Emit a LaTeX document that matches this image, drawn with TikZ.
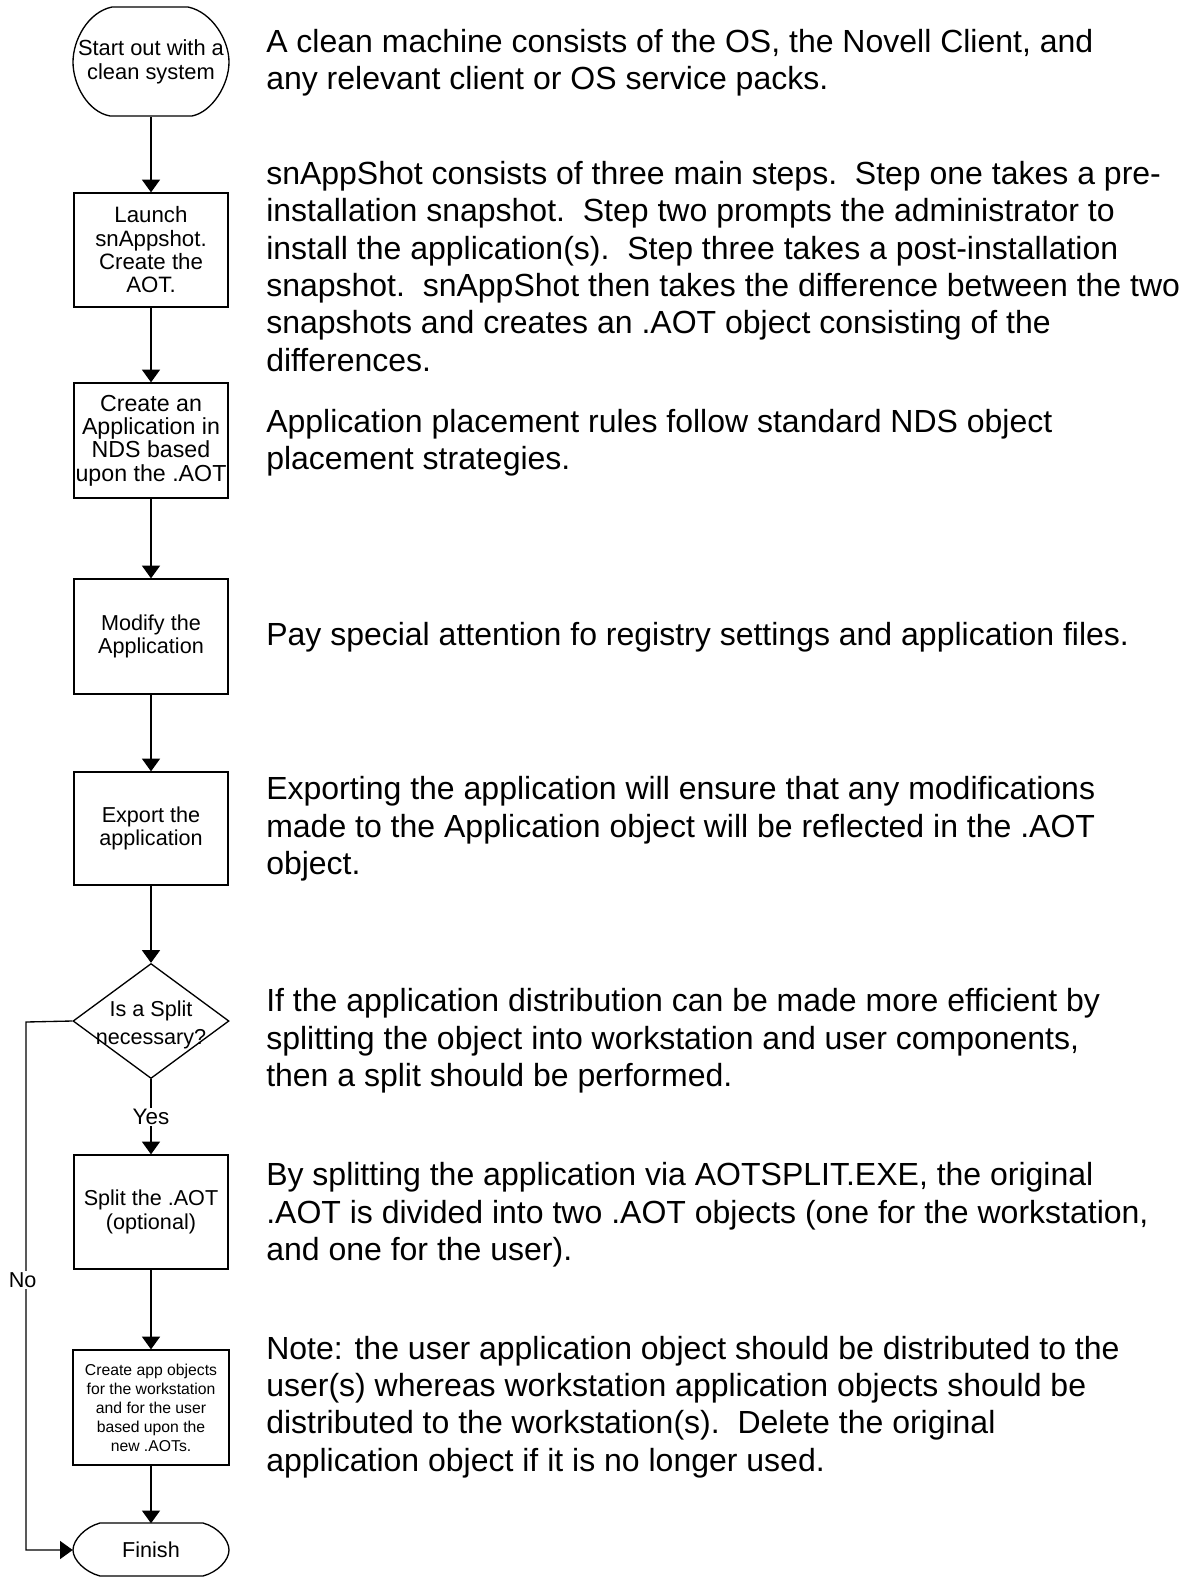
\documentclass[tikz,border=0pt]{standalone}
\usepackage{fontspec}
\setmainfont{Liberation Sans}
\usetikzlibrary{arrows.meta,shapes.geometric}
\tikzset{
  line/.style={line width=1pt},
  arr/.style={line, -{Triangle[width=13.5pt,length=9.5pt]}},
  boxnode/.style={draw, line width=1pt, minimum width=115.5pt, minimum height=85.5pt, inner sep=0pt, align=center, font=\fontsize{16.2}{17.5}\selectfont},
  smallbox/.style={boxnode, font=\fontsize{11.8}{14.25}\selectfont},
  term/.style={minimum width=117pt, inner sep=0pt, align=center, font=\fontsize{16.2}{17.5}\selectfont},
  para/.style={anchor=west, align=left, inner sep=0pt, font=\fontsize{24}{28}\selectfont},
  lab/.style={fill=white, inner sep=1pt, font=\fontsize{16.2}{17.5}\selectfont}
}
\begin{document}
\begin{tikzpicture}[x=0.75pt,y=-0.75pt]
\useasboundingbox (0,0) rectangle (1197,1577);
% start terminal
\node[term, minimum height=81.75pt, font=\fontsize{16.4}{17.8}\selectfont] (start) at (151,62) {Start out with a\\clean system};
\draw[line, shift={(start.center)}] (-39,-55) -- (37,-55) .. controls (61,-50) and (78,-22) .. (78,0) .. controls (78,23) and (61,50) .. (41,54) -- (-41,54) .. controls (-63,50) and (-78,23) .. (-78,0) .. controls (-78,-22) and (-63,-50) .. (-39,-55) -- cycle;
% boxes
\node[boxnode, font=\fontsize{16.7}{17.5}\selectfont] (b1) at (151,250) {Launch\\snAppshot.\\Create the\\AOT.};
\node[boxnode, minimum height=86.25pt, font=\fontsize{17.4}{17.5}\selectfont] (b2) at (151,440.5) {Create an\\Application in\\NDS based\\upon the .AOT};
\node[boxnode, minimum height=86.25pt] (b3) at (151,636.5) {Modify the\\Application};
\node[boxnode, minimum height=84.75pt] (b4) at (151,828.5) {Export the\\application};
\node[draw, line width=1pt, diamond, minimum width=117pt, minimum height=86.25pt, inner sep=0pt] (dia) at (151,1021) {};
\node[align=center, inner sep=0pt, font=\fontsize{16.2}{21.5}\selectfont] (diatext) at ([yshift=-3pt]dia.center) {Is a Split\\necessary?};
\node[boxnode] (b5) at (151,1212) {Split the .AOT\\(optional)};
\node[smallbox, minimum width=117pt, minimum height=86.25pt] (b6) at (151,1407.5) {Create app objects\\for the workstation\\and for the user\\based upon the\\new .AOTs.};
% finish terminal
\node[term, minimum height=39.75pt] (finish) at (151,1550) {Finish};
\draw[line, shift={(finish.center)}] (-51,-27) -- (52,-27) .. controls (67,-23) and (78,-10) .. (78,0) .. controls (78,10) and (67,22) .. (52,26) -- (-51,26) .. controls (-66,22) and (-78,10) .. (-78,0) .. controls (-78,-10) and (-66,-23) .. (-51,-27) -- cycle;
% connectors
\draw[arr] (start.south) -- (b1.north);
\draw[arr] (b1.south) -- (b2.north);
\draw[arr] (b2.south) -- (b3.north);
\draw[arr] (b3.south) -- (b4.north);
\draw[arr] (b4.south) -- (dia.north);
\draw[arr] (dia.south) -- node[lab, font=\fontsize{16.8}{17.5}\selectfont] (yes) {Yes} (b5.north);
\draw[arr] (b5.south) -- (b6.north);
\draw[arr] (b6.south) -- (finish.north);
\coordinate (nc) at (26,1022);
\coordinate (nd) at (26,1550);
\draw[arr] (dia.west) -- (nc) -- node[lab, pos=0.489, xshift=-2.5pt] (no) {No} (nd) -- (finish.west);
% explanatory paragraphs
\node[para] (p1) at (266,63) {A clean machine consists of the OS, the Novell Client, and\\any relevant client or OS service packs.};
\node[para] (p2) at (266,266.5) {snAppShot consists of three main steps.\ \ Step one takes a pre-\\installation snapshot.\ \ Step two prompts the administrator to\\install the application(s).\ \ Step three takes a post-installation\\snapshot.\ \ snAppShot then takes the difference between the two\\snapshots and creates an .AOT object consisting of the\\differences.};
\node[para] (p3) at (266,443) {Application placement rules follow standard NDS object\\placement strategies.};
\node[para] (p4) at (266,637) {Pay special attention fo registry settings and application files.};
\node[para] (p5) at (266,829) {Exporting the application will ensure that any modifications\\made to the Application object will be reflected in the .AOT\\object.};
\node[para] (p6) at (266,1041) {If the application distribution can be made more efficient by\\splitting the object into workstation and user components,\\then a split should be performed.};
\node[para] (p7) at (266,1215) {By splitting the application via AOTSPLIT.EXE, the original\\.AOT is divided into two .AOT objects (one for the workstation,\\and one for the user).};
\node[para] (p8) at (266,1407) {Note: the user application object should be distributed to the\\user(s) whereas workstation application objects should be\\distributed to the workstation(s).\ \ Delete the original\\application object if it is no longer used.};
\end{tikzpicture}
\end{document}
